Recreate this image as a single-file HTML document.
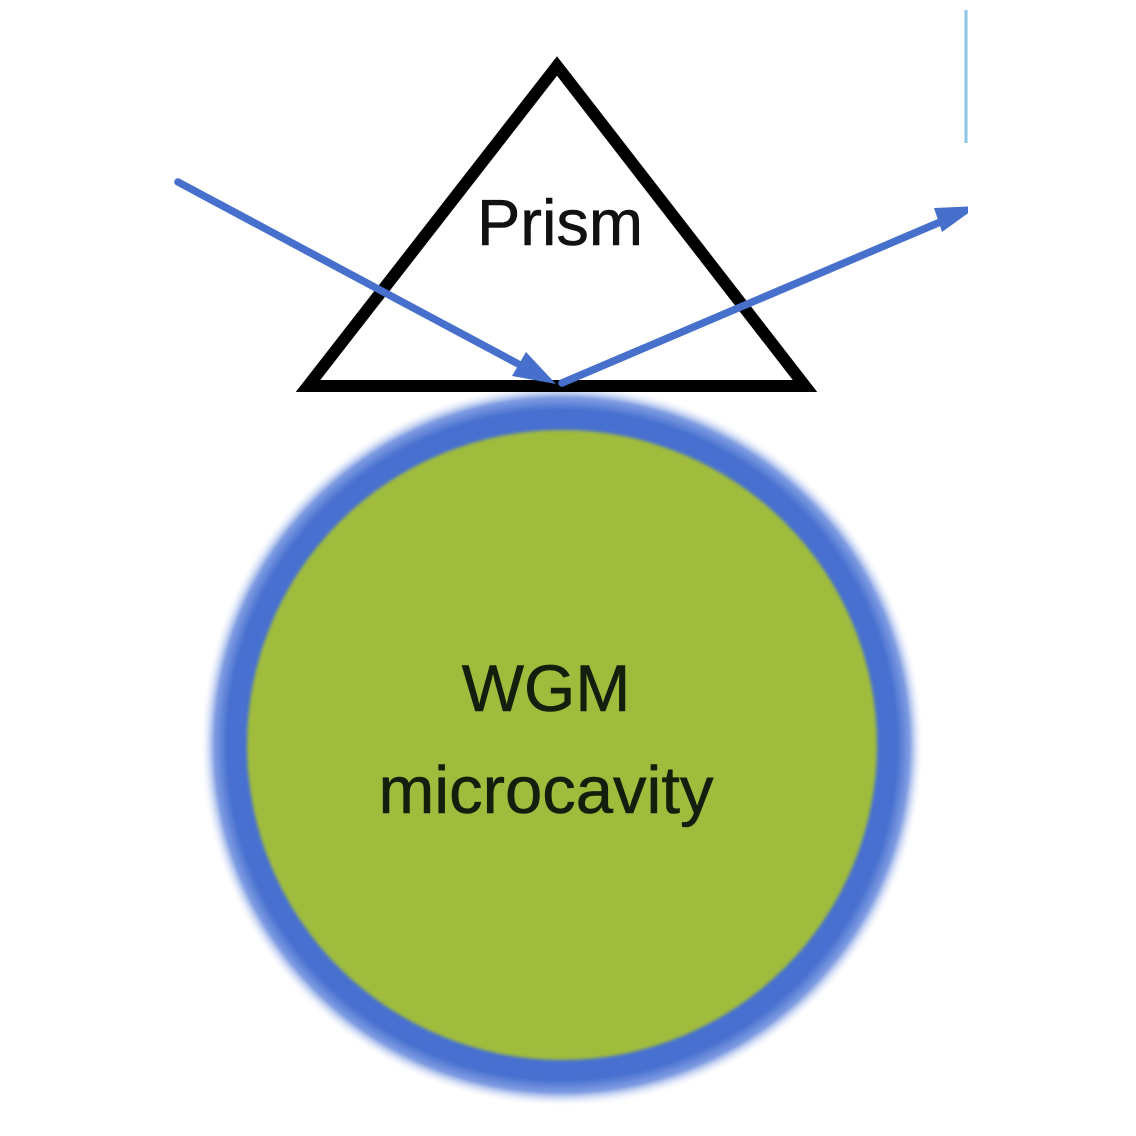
<!DOCTYPE html>
<html>
<head>
<meta charset="utf-8">
<style>
  html, body { margin: 0; padding: 0; background: #ffffff; }
  body { width: 1136px; height: 1136px; overflow: hidden; }
  svg { display: block; }
  text { font-family: "Liberation Sans", Arial, sans-serif; }
</style>
</head>
<body>
<svg width="1136" height="1136" viewBox="0 0 1136 1136" xmlns="http://www.w3.org/2000/svg">
  <defs>
    <radialGradient id="ring" cx="562" cy="745" r="362" gradientUnits="userSpaceOnUse">
      <stop offset="0" stop-color="#4a72d0"/>
      <stop offset="0.925" stop-color="#4870d0"/>
      <stop offset="0.96" stop-color="#7f9de2"/>
      <stop offset="1" stop-color="#ffffff" stop-opacity="0"/>
    </radialGradient>
    <filter id="soft" x="-10%" y="-10%" width="120%" height="120%">
      <feGaussianBlur stdDeviation="1.5"/>
    </filter>
    <clipPath id="clip">
      <rect x="0" y="0" width="968" height="1136"/>
    </clipPath>
  </defs>

  <rect width="1136" height="1136" fill="#ffffff"/>

  <!-- blue glow ring -->
  <circle cx="562" cy="745" r="362" fill="url(#ring)"/>
  <!-- green microcavity -->
  <circle cx="562" cy="745" r="315" fill="#9fbc3c" filter="url(#soft)"/>

  <!-- prism -->
  <polygon points="557,66 308,386 805,386" fill="none" stroke="#000" stroke-width="12" stroke-linejoin="miter" stroke-miterlimit="10"/>

  <g clip-path="url(#clip)">
    <!-- incoming ray -->
    <line x1="178" y1="182" x2="522" y2="366" stroke="#4670cc" stroke-width="7.5" stroke-linecap="round"/>
    <polygon points="556,384 512,376 526,352" fill="#4670cc"/>
    <!-- outgoing ray -->
    <line x1="562" y1="383" x2="945" y2="220" stroke="#4670cc" stroke-width="7.5" stroke-linecap="round"/>
    <polygon points="978,206 942,232 934,208" fill="#4670cc"/>
    <!-- light blue vertical line -->
    <line x1="966" y1="10" x2="966" y2="143" stroke="#8cc6e6" stroke-width="3"/>
  </g>

  <!-- labels -->
  <text x="560" y="245" font-size="65" text-anchor="middle" fill="#111" stroke="#111" stroke-width="0.6">Prism</text>
  <text x="546" y="711" font-size="66" text-anchor="middle" fill="#141e0c" stroke="#141e0c" stroke-width="0.6">WGM</text>
  <text x="546" y="813" font-size="67" text-anchor="middle" fill="#141e0c" stroke="#141e0c" stroke-width="0.6">microcavity</text>
</svg>
</body>
</html>
